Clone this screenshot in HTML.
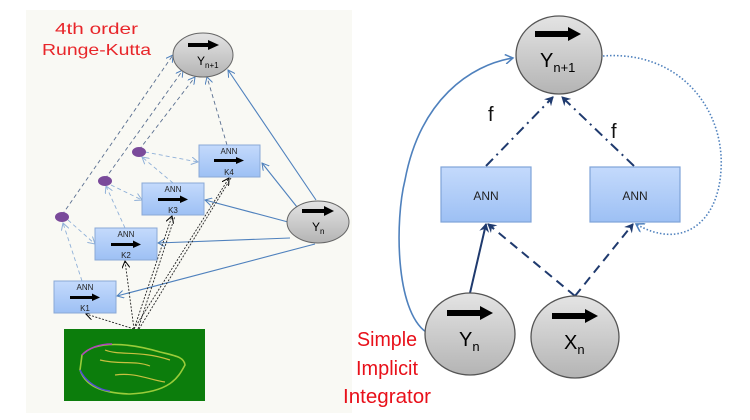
<!DOCTYPE html>
<html><head><meta charset="utf-8"><style>
html,body{margin:0;padding:0;background:#fff;}
svg{display:block;}
text{font-family:"Liberation Sans",sans-serif;}
</style></head><body>
<svg width="750" height="420" viewBox="0 0 750 420" xmlns="http://www.w3.org/2000/svg">
<defs>
<linearGradient id="g" x1="0" y1="0" x2="0" y2="1"><stop offset="0" stop-color="#e4e4e4"/><stop offset="1" stop-color="#b4b4b4"/></linearGradient>
<linearGradient id="b" x1="0" y1="0" x2="0" y2="1"><stop offset="0" stop-color="#c4dafc"/><stop offset="1" stop-color="#9dc0f4"/></linearGradient>
<marker id="ab" markerWidth="8" markerHeight="8" refX="7" refY="4" orient="auto" markerUnits="userSpaceOnUse"><path d="M0,0 L7,4 L0,8" fill="none" stroke="#4f81bd" stroke-width="1"/></marker>
<marker id="ak" markerWidth="8" markerHeight="8" refX="7" refY="4" orient="auto" markerUnits="userSpaceOnUse"><path d="M0,0 L7,4 L0,8" fill="none" stroke="#000" stroke-width="1"/></marker>
<marker id="al" markerWidth="8" markerHeight="8" refX="7" refY="4" orient="auto" markerUnits="userSpaceOnUse"><path d="M0,0 L7,4 L0,8" fill="none" stroke="#8fb0d8" stroke-width="1"/></marker>
<marker id="an" markerWidth="10" markerHeight="10" refX="8" refY="5" orient="auto" markerUnits="userSpaceOnUse"><path d="M0,0 L9,5 L0,10 L3,5Z" fill="#1f3a6e"/></marker>
<marker id="ad" markerWidth="10" markerHeight="10" refX="8" refY="5" orient="auto" markerUnits="userSpaceOnUse"><path d="M0,0 L8,5 L0,10" fill="none" stroke="#4f81bd" stroke-width="1.5"/></marker>
</defs>

<rect x="26" y="10" width="326" height="403" fill="#f9f9f4"/>
<text x="55" y="34" font-size="16" fill="#e8262a" textLength="83" lengthAdjust="spacingAndGlyphs">4th order</text>
<text x="42" y="55" font-size="16" fill="#e8262a" textLength="109" lengthAdjust="spacingAndGlyphs">Runge-Kutta</text>

<g stroke="#5a6f90" stroke-width="0.9" stroke-dasharray="4,3" fill="none">
<line x1="62" y1="215" x2="173" y2="55" marker-end="url(#ab)"/>
<line x1="105" y1="179" x2="183" y2="70" marker-end="url(#ab)"/>
<line x1="139" y1="150" x2="195" y2="77" marker-end="url(#ab)"/>
<line x1="227" y1="145" x2="207" y2="77" marker-end="url(#ab)"/>
</g>
<g stroke="#8fb0d8" stroke-width="0.9" stroke-dasharray="4,3" fill="none">
<line x1="82" y1="281" x2="63" y2="223" marker-end="url(#al)"/>
<line x1="125" y1="228" x2="106" y2="186" marker-end="url(#al)"/>
<line x1="173" y1="183" x2="142" y2="157" marker-end="url(#al)"/>
<line x1="68" y1="220" x2="95" y2="244" marker-end="url(#al)"/>
<line x1="111" y1="185" x2="142" y2="200" marker-end="url(#al)"/>
<line x1="145" y1="152" x2="198" y2="162" marker-end="url(#al)"/>
</g>
<g fill="#7a4a9a"><ellipse cx="62" cy="217" rx="7" ry="5"/><ellipse cx="105" cy="181" rx="7" ry="5"/><ellipse cx="139" cy="152" rx="7" ry="5"/></g>

<g stroke="#4f81bd" stroke-width="1.1" fill="none">
<line x1="316" y1="200" x2="228" y2="70" marker-end="url(#ab)"/>
<line x1="297" y1="207" x2="262" y2="163" marker-end="url(#ab)"/>
<line x1="288" y1="222" x2="205" y2="200" marker-end="url(#ab)"/>
<line x1="290" y1="238" x2="158" y2="243" marker-end="url(#ab)"/>
<line x1="315" y1="244" x2="117" y2="296" marker-end="url(#ab)"/>
</g>
<g stroke="#222" stroke-width="0.9" stroke-dasharray="2,1.5" fill="none">
<line x1="134" y1="329" x2="86" y2="314" marker-end="url(#ak)"/>
<line x1="134" y1="329" x2="125" y2="261" marker-end="url(#ak)"/>
<line x1="134" y1="329" x2="172" y2="216" marker-end="url(#ak)"/>
<line x1="134" y1="329" x2="229" y2="178" marker-end="url(#ak)"/>
<line x1="138" y1="329" x2="175" y2="216"/>
<line x1="139" y1="329" x2="231" y2="178"/>
</g>

<ellipse cx="203" cy="55" rx="30" ry="22" fill="url(#g)" stroke="#666" stroke-width="1"/>
<rect x="188" y="43" width="22" height="4" fill="#000"/><path d="M208,40 L219,45 L208,50Z" fill="#000"/>
<text x="197" y="65" font-size="12">Y<tspan font-size="8" dy="3">n+1</tspan></text>
<ellipse cx="318" cy="222" rx="31" ry="21" fill="url(#g)" stroke="#666" stroke-width="1"/>
<rect x="302" y="209" width="24" height="4" fill="#000"/><path d="M324,206 L334,211 L324,216Z" fill="#000"/>
<text x="312" y="231" font-size="12">Y<tspan font-size="8" dy="3">n</tspan></text>

<g font-size="8" text-anchor="middle" fill="#222">
<rect x="199" y="145" width="61" height="32" fill="url(#b)" stroke="#8aa9d6"/>
<text x="229" y="154">ANN</text><rect x="214" y="159" width="24" height="3" fill="#000"/><path d="M236,157 L244,160.5 L236,164Z" fill="#000"/><text x="229" y="175">K4</text>
<rect x="142" y="183" width="62" height="32" fill="url(#b)" stroke="#8aa9d6"/>
<text x="173" y="192">ANN</text><rect x="158" y="198" width="24" height="3" fill="#000"/><path d="M180,195.5 L188,199.5 L180,203Z" fill="#000"/><text x="173" y="213">K3</text>
<rect x="95" y="228" width="62" height="32" fill="url(#b)" stroke="#8aa9d6"/>
<text x="126" y="237">ANN</text><rect x="111" y="243" width="24" height="3" fill="#000"/><path d="M133,240.5 L141,244.5 L133,248Z" fill="#000"/><text x="126" y="258">K2</text>
<rect x="54" y="281" width="62" height="32" fill="url(#b)" stroke="#8aa9d6"/>
<text x="85" y="290">ANN</text><rect x="70" y="296" width="24" height="3" fill="#000"/><path d="M92,293.5 L100,297.5 L92,301Z" fill="#000"/><text x="85" y="311">K1</text>
</g>

<rect x="64" y="329" width="141" height="72" fill="#0c7d0c"/>
<path d="M82,355 C95,340 130,343 160,352 C176,356 184,357 185,365 C178,378 170,392 130,394 C100,393 85,385 80,370 Z" fill="none" stroke="#9acc3a" stroke-width="1.6"/>
<path d="M82,355 C90,347 100,344 112,344" fill="none" stroke="#b040c0" stroke-width="1.5"/>
<path d="M80,370 C86,383 100,390 110,391" fill="none" stroke="#5050d0" stroke-width="1.5"/>
<path d="M100,360 C120,365 135,360 150,366 M115,375 C135,372 150,380 165,382 M105,350 C120,356 140,350 170,360" fill="none" stroke="#c8c040" stroke-width="1.2"/>

<path d="M426,332 C395,310 395,220 405,180 C420,100 470,65 513,58" fill="none" stroke="#4f81bd" stroke-width="1.6" marker-end="url(#ad)"/>
<path d="M603,56 C680,50 725,110 721,170 C718,225 680,250 636,224" fill="none" stroke="#4f81bd" stroke-width="1.6" stroke-dasharray="1.5,2" marker-end="url(#ad)"/>

<g stroke="#1f3a6e" stroke-width="2" fill="none">
<line x1="486" y1="166" x2="553" y2="97" stroke-dasharray="10,5,2,5" marker-end="url(#an)"/>
<line x1="634" y1="166" x2="562" y2="97" stroke-dasharray="10,5,2,5" marker-end="url(#an)"/>
<line x1="470" y1="293" x2="486" y2="224" marker-end="url(#an)"/>
<line x1="575" y1="296" x2="488" y2="224" stroke-dasharray="9,6" marker-end="url(#an)"/>
<line x1="575" y1="296" x2="633" y2="224" stroke-dasharray="9,6" marker-end="url(#an)"/>
</g>

<text x="488" y="121" font-size="20" fill="#111">f</text>
<text x="611" y="138" font-size="20" fill="#111">f</text>

<rect x="441" y="167" width="90" height="55" fill="url(#b)" stroke="#7fa3d8" stroke-width="1.2"/>
<text x="486" y="200" font-size="12" text-anchor="middle" fill="#222">ANN</text>
<rect x="590" y="167" width="90" height="55" fill="url(#b)" stroke="#7fa3d8" stroke-width="1.2"/>
<text x="635" y="200" font-size="12" text-anchor="middle" fill="#222">ANN</text>

<ellipse cx="559" cy="55" rx="43" ry="39" fill="url(#g)" stroke="#555" stroke-width="1.3"/>
<rect x="535" y="31" width="36" height="6" fill="#000"/><path d="M568,27 L581,34 L568,41Z" fill="#000"/>
<text x="540" y="67" font-size="20">Y<tspan font-size="13" dy="5">n+1</tspan></text>

<ellipse cx="470" cy="334" rx="45" ry="41" fill="url(#g)" stroke="#555" stroke-width="1.3"/>
<rect x="447" y="310" width="36" height="6" fill="#000"/><path d="M480,306 L493,313 L480,320Z" fill="#000"/>
<text x="459" y="346" font-size="20">Y<tspan font-size="13" dy="5">n</tspan></text>

<ellipse cx="575" cy="337" rx="44" ry="41" fill="url(#g)" stroke="#555" stroke-width="1.3"/>
<rect x="552" y="313" width="36" height="6" fill="#000"/><path d="M585,309 L598,316 L585,323Z" fill="#000"/>
<text x="564" y="349" font-size="20">X<tspan font-size="13" dy="5">n</tspan></text>

<g font-size="20" fill="#e8101a">
<text x="357" y="346" textLength="60" lengthAdjust="spacingAndGlyphs">Simple</text>
<text x="356" y="375" textLength="62" lengthAdjust="spacingAndGlyphs">Implicit</text>
<text x="343" y="403" textLength="88" lengthAdjust="spacingAndGlyphs">Integrator</text>
</g>
</svg>
</body></html>
